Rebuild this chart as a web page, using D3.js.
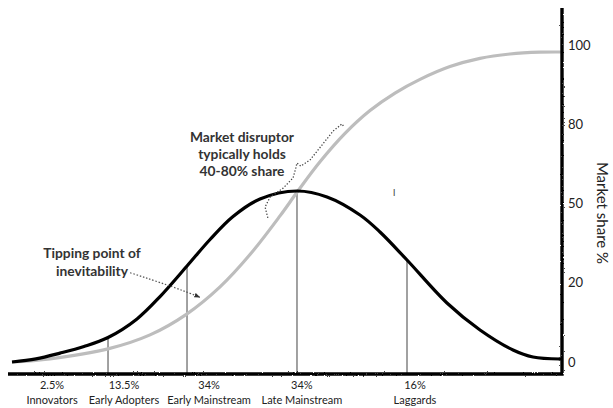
<!DOCTYPE html>
<html><head><meta charset="utf-8">
<script src="https://cdn.jsdelivr.net/npm/d3@7"></script>
<style>
body{margin:0;background:#fff;}
svg{display:block;font-family:"Comic Sans MS","Lato","Open Sans",sans-serif;}
</style></head>
<body><svg id="c" width="613" height="408"></svg>
<script>
// adoption bell curve (x: 0-100 along timeline, v: share units)
const bellX = [0,4.37,8.74,13.11,17.49,22.77,26.96,31.88,36.07,40.26,45.17,51.91,57.38,63.39,67.03,71.95,79.23,85.25,91.26,94.90,99.82];
const bellV = [0,1.0,2.85,5.0,7.9,13.9,21.1,30.97,39.52,46.94,52.58,55.16,53.23,47.42,41.94,32.90,19.03,10.32,3.87,1.61,0.97];
// cumulative market share S-curve
const shareX = [0,6.92,17.49,25.14,31.69,37.89,43.35,48.82,51.91,56.10,60.66,65.21,69.76,74.32,79.78,85.25,90.71,96.17,100];
const shareV = [0,1.03,4.23,8.74,15.29,24.23,34.65,47.13,54.74,64.58,73.74,81.10,86.74,91.16,95.29,97.94,99.35,99.94,100];
// segment dividers
const dividerX = [17.49,31.88,51.91,71.95];
const dividerTop = [7.90,30.97,55.16,32.90];
// segment labels
const segPct = ["2.5%","13.5%","34%","34%","16%"];
const segName = ["Innovators","Early Adopters","Early Mainstream","Late Mainstream","Laggards"];
const segLabelX = [7.3,20.4,35.9,52.8,73.4];
// right axis tick labels
const tickLabels = ["0","20","50","80","100"];

const svg = d3.select("#c");
const x = d3.scaleLinear().domain([0,100]).range([12,561]);
const y = d3.scaleLinear().domain([0,100]).range([362,52]);
const yTick = d3.scalePoint().domain(tickLabels).range([362,45]);

const defs = svg.append("defs");
const f = defs.append("filter").attr("id","rough").attr("x","-5%").attr("y","-5%").attr("width","110%").attr("height","110%");
f.append("feTurbulence").attr("type","fractalNoise").attr("baseFrequency","0.9").attr("numOctaves",2).attr("result","n");
f.append("feDisplacementMap").attr("in","SourceGraphic").attr("in2","n").attr("scale",2.2);
const mk = defs.append("marker").attr("id","arr").attr("viewBox","0 0 10 10").attr("refX",9).attr("refY",5)
  .attr("markerWidth",5).attr("markerHeight",5).attr("orient","auto");
mk.append("path").attr("d","M0,1 L10,5 L0,9 Z").attr("fill","#333");

const line = d3.line().x(d=>x(d[0])).y(d=>y(d[1])).curve(d3.curveCatmullRom.alpha(0.5));

// dividers
svg.selectAll(".div").data(dividerX).join("line")
  .attr("x1",d=>x(d)).attr("x2",d=>x(d))
  .attr("y1",(d,i)=>y(dividerTop[i])).attr("y2",374)
  .attr("stroke","#8a8a8a").attr("stroke-width",1.6);

// S-curve
svg.append("path").datum(shareX.map((d,i)=>[d,shareV[i]]))
  .attr("d",line).attr("fill","none").attr("stroke","#bdbdbd").attr("stroke-width",3.2);

// bell curve
svg.append("path").datum(bellX.map((d,i)=>[d,bellV[i]]))
  .attr("d",line).attr("fill","none").attr("stroke","#000").attr("stroke-width",3.2);

// axes
const axG = svg.append("g").attr("filter","url(#rough)");
axG.append("path").attr("d",`M${x(0)-4},374 L${x(100)+1},374 L${x(100)+1},8`)
  .attr("fill","none").attr("stroke","#000").attr("stroke-width",3.4);
axG.append("path").attr("d",`M${x(99.6)},${y(0.97)} L${x(100)+1},${y(0.97)}`)
  .attr("fill","none").attr("stroke","#000").attr("stroke-width",3);

// right tick labels
const ya = d3.axisRight(yTick).tickSize(0).tickPadding(0);
const gT = svg.append("g").attr("transform","translate(568,0)").call(ya);
gT.select(".domain").remove();
gT.selectAll("text").attr("font-family",'"Comic Sans MS","Lato",sans-serif').attr("font-size",13).attr("fill","#222").attr("text-anchor","start");

svg.append("text").attr("transform","translate(597,213) rotate(90)").attr("text-anchor","middle")
  .attr("font-size",15).attr("fill","#222").text("Market share %");

// bottom labels
svg.selectAll(".pct").data(segPct).join("text")
  .attr("x",(d,i)=>x(segLabelX[i])).attr("y",389).attr("text-anchor","middle")
  .attr("font-size",11).attr("fill","#222").text(d=>d);
svg.selectAll(".nm").data(segName).join("text")
  .attr("x",(d,i)=>x(segLabelX[i])).attr("y",404).attr("text-anchor","middle")
  .attr("font-size",11).attr("fill","#222").text(d=>d);

// annotations
const ann1 = ["Tipping point of","inevitability"];
svg.selectAll(".a1").data(ann1).join("text")
  .attr("x",92).attr("y",(d,i)=>258+i*18).attr("text-anchor","middle")
  .attr("font-size",13.8).attr("font-weight","bold").attr("fill","#333").text(d=>d);
svg.append("path")
  .attr("d",`M${x(21.5)},${y(28.8)} Q${x(30)},${y(24)} ${x(34.2)},${y(20.9)}`)
  .attr("fill","none").attr("stroke","#555").attr("stroke-width",1.2).attr("stroke-dasharray","1.5,1.8")
  .attr("marker-end","url(#arr)");

const ann2 = ["Market disruptor","typically holds","40-80% share"];
svg.selectAll(".a2").data(ann2).join("text")
  .attr("x",242).attr("y",(d,i)=>142+i*17).attr("text-anchor","middle")
  .attr("font-size",13.8).attr("font-weight","bold").attr("fill","#333").text(d=>d);
// dotted brace
const brace = [[46.6,46.5],[46.1,50.0],[47.0,53.2],[49.4,56.1],[51.2,59.4],[51.7,62.6],[51.9,64.2],[52.6,63.2],[54.3,65.2],[58.5,74.5],[60.1,76.8],[60.5,75.8]];
svg.append("path").datum(brace)
  .attr("d",d3.line().x(d=>x(d[0])).y(d=>y(d[1])).curve(d3.curveLinear))
  .attr("fill","none").attr("stroke","#444").attr("stroke-width",1.3).attr("stroke-dasharray","1.3,1.8");

svg.append("text").attr("x",x(69.4)).attr("y",y(53.5)).attr("font-size",10).attr("fill","#444").text("l");
</script></body></html>
